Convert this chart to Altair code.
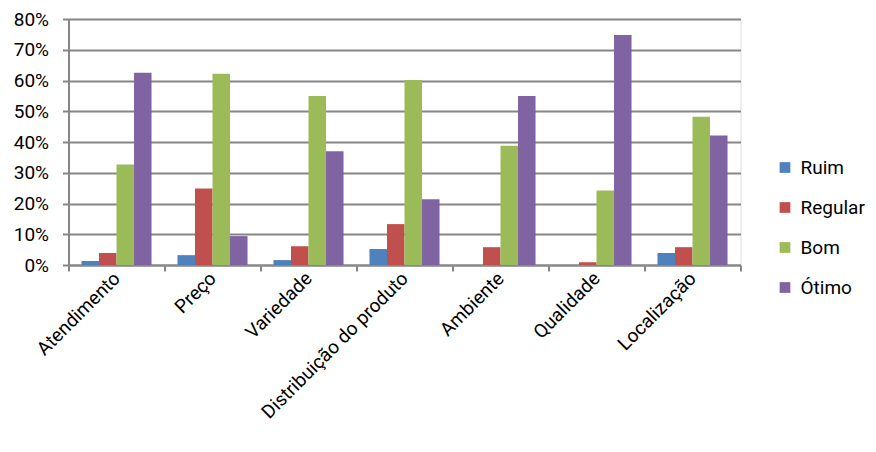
import altair as alt
import pandas as pd

categories = ["Atendimento", "Preço", "Variedade", "Distribuição do produto",
              "Ambiente", "Qualidade", "Localização"]
series = ["Ruim", "Regular", "Bom", "Ótimo"]
ruim = [1.3, 3.2, 1.6, 5.2, 0.0, 0.0, 3.9]
regular = [3.9, 24.9, 6.1, 13.3, 5.8, 0.9, 5.8]
bom = [32.7, 62.2, 55.0, 60.2, 38.8, 24.2, 48.2]
otimo = [62.5, 9.4, 37.0, 21.4, 55.0, 74.8, 42.1]
colors = ["#4F81BD", "#C0504D", "#9BBB59", "#8064A2"]

rows = []
for s, vals in zip(series, [ruim, regular, bom, otimo]):
    for c, v in zip(categories, vals):
        rows.append({"categoria": c, "serie": s, "valor": v / 100})
df = pd.DataFrame(rows)

FONT = "Roboto"
FS = 19
GRID = "#868686"

chart = alt.Chart(df).mark_bar().encode(
    x=alt.X("categoria:N", sort=categories, title=None,
            scale=alt.Scale(paddingInner=0, paddingOuter=0),
            axis=alt.Axis(labelAngle=-45, labelAlign="right", labelBaseline="middle",
                          labelFontSize=FS, labelFont=FONT, labelColor="#000000",
                          tickBand="extent", tickSize=6, tickColor=GRID, tickWidth=2,
                          domainColor=GRID, domainWidth=2, labelPadding=4,
                          labelLimit=400)),
    xOffset=alt.XOffset("serie:N", sort=series,
                        scale=alt.Scale(paddingInner=0, paddingOuter=0.74)),
    y=alt.Y("valor:Q", title=None,
            scale=alt.Scale(domain=[0, 0.8], nice=False),
            axis=alt.Axis(format=".0%", values=[i / 10 for i in range(9)],
                          labelFontSize=FS, labelFont=FONT, labelColor="#000000",
                          tickSize=6, tickColor=GRID, tickWidth=2,
                          domainColor=GRID, domainWidth=2, labelPadding=14,
                          grid=True, gridColor=GRID, gridWidth=2)),
    color=alt.Color("serie:N", sort=series, title=None,
                    scale=alt.Scale(domain=series, range=colors),
                    legend=alt.Legend(orient="none", legendX=707, legendY=139,
                                      symbolType="square", symbolSize=115,
                                      symbolStrokeWidth=0,
                                      labelFontSize=FS, labelFont=FONT,
                                      labelColor="#000000",
                                      rowPadding=20, labelOffset=6)),
).properties(
    width=672, height=246,
    autosize=alt.AutoSizeParams(type="none"),
    padding={"left": 68.5, "top": 19, "right": 135.5, "bottom": 187},
).configure_view(stroke=None).configure(background="#ffffff")

chart.save("out.html", embed_options={"renderer": "svg", "actions": False})
